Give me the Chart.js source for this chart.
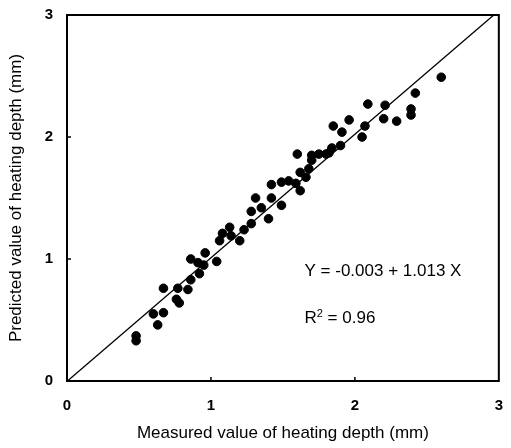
<!DOCTYPE html>
<html>
<head>
<meta charset="utf-8">
<script src="https://cdn.jsdelivr.net/npm/chart.js@4/dist/chart.umd.min.js"></script>
<style>
  html, body { margin: 0; padding: 0; background: #fff; }
  #wrap { width: 511px; height: 448px; }
</style>
</head>
<body>
<div id="wrap"><canvas id="grafico"></canvas></div>
<script>
const medido = [0.48, 0.48, 0.60, 0.67, 0.63, 0.67, 0.76, 0.78, 0.77, 0.84,
                0.86, 0.86, 0.92, 0.95, 0.96, 0.91, 1.04, 1.06, 1.08, 1.13,
                1.20, 1.23, 1.28, 1.28, 1.31, 1.35, 1.40, 1.42, 1.42, 1.49,
                1.49, 1.54, 1.59, 1.62, 1.62, 1.68, 1.70, 1.60, 1.75, 1.80,
                1.84, 1.90, 1.85, 1.91, 1.96, 2.05, 2.07, 2.09, 2.20, 2.21,
                2.29, 2.39, 2.39, 2.42, 2.60, 1.14, 1.66, 1.70, 1.82];
const previsto = [0.37, 0.33, 0.55, 0.56, 0.46, 0.76, 0.67, 0.64, 0.76, 0.75,
                  0.83, 1.00, 0.88, 0.95, 1.05, 0.97, 0.98, 1.15, 1.21, 1.26,
                  1.15, 1.24, 1.29, 1.39, 1.50, 1.42, 1.33, 1.50, 1.61, 1.44,
                  1.63, 1.64, 1.62, 1.56, 1.71, 1.74, 1.85, 1.86, 1.86, 1.86,
                  1.91, 1.93, 2.09, 2.04, 2.14, 2.00, 2.09, 2.27, 2.15, 2.26,
                  2.13, 2.23, 2.18, 2.36, 2.49, 1.19, 1.67, 1.81, 1.87];

// reta de regressão Y = -0.003 + 1.013 X (extremos)
const retaX = [0, 2.965];
const retaY = [-0.003, 3.0];

const ticksEixo = [0, 1, 2, 3];

const pontos = medido.map((v, i) => ({ x: v, y: previsto[i] }));
const reta = retaX.map((v, i) => ({ x: v, y: retaY[i] }));

const fonte = '"Liberation Sans", Arial, sans-serif';

// moldura, marcas internas e texto da equação
const moldura = {
    id: 'moldura',
    afterDatasetsDraw(chart) {
        const { ctx, chartArea: a, scales } = chart;
        ctx.save();
        ctx.strokeStyle = '#000';
        ctx.lineWidth = 2;
        ctx.strokeRect(a.left, a.top, a.right - a.left, a.bottom - a.top);
        ctx.lineWidth = 1.5;
        ticksEixo.slice(1, 3).forEach(t => {
            const px = scales.x.getPixelForValue(t);
            ctx.beginPath();
            ctx.moveTo(px, a.bottom);
            ctx.lineTo(px, a.bottom - 4);
            ctx.stroke();
            const py = scales.y.getPixelForValue(t);
            ctx.beginPath();
            ctx.moveTo(a.left, py);
            ctx.lineTo(a.left + 4, py);
            ctx.stroke();
        });
        ctx.fillStyle = '#000';
        ctx.font = '17px ' + fonte;
        ctx.textBaseline = 'middle';
        const tx = scales.x.getPixelForValue(1.65);
        ctx.fillText('Y = -0.003 + 1.013 X', tx, scales.y.getPixelForValue(0.9));
        const ry = scales.y.getPixelForValue(0.51);
        ctx.fillText('R', tx, ry);
        const wR = ctx.measureText('R').width;
        ctx.font = '11px ' + fonte;
        ctx.fillText('2', tx + wR, ry - 5);
        const w2 = ctx.measureText('2').width;
        ctx.font = '17px ' + fonte;
        ctx.fillText(' = 0.96', tx + wR + w2, ry);
        ctx.restore();
    }
};

new Chart(document.getElementById('grafico').getContext('2d'), {
    type: 'scatter',
    data: {
        datasets: [{
            data: pontos,
            backgroundColor: '#000',
            borderColor: '#000',
            pointRadius: 4.3,
            pointHoverRadius: 4.3
        }, {
            type: 'line',
            data: reta,
            borderColor: '#000',
            borderWidth: 1.3,
            pointRadius: 0,
            fill: false
        }]
    },
    options: {
        responsive: true,
        maintainAspectRatio: false,
        animation: false,
        layout: { padding: { top: 14, right: 10, left: 0, bottom: 0 } },
        plugins: {
            legend: { display: false },
            tooltip: { enabled: false }
        },
        scales: {
            x: {
                type: 'linear',
                min: 0,
                max: 3,
                afterBuildTicks: s => { s.ticks = ticksEixo.map(v => ({ value: v })); },
                afterFit: s => { s.height = 67; },
                grid: { display: false },
                border: { display: false },
                ticks: {
                    color: '#000',
                    padding: 8,
                    font: { family: fonte, size: 15, weight: 'bold' }
                },
                title: {
                    display: true,
                    text: 'Measured value of heating depth (mm)',
                    color: '#000',
                    padding: { top: 14 },
                    font: { family: fonte, size: 17 }
                }
            },
            y: {
                type: 'linear',
                min: 0,
                max: 3,
                afterBuildTicks: s => { s.ticks = ticksEixo.map(v => ({ value: v })); },
                afterFit: s => { s.width = 67; },
                grid: { display: false },
                border: { display: false },
                ticks: {
                    color: '#000',
                    padding: 6,
                    font: { family: fonte, size: 15, weight: 'bold' }
                },
                title: {
                    display: true,
                    text: 'Predicted value of heating depth (mm)',
                    color: '#000',
                    padding: { top: 6, bottom: 4 },
                    font: { family: fonte, size: 17 }
                }
            }
        }
    },
    plugins: [moldura]
});
</script>
</body>
</html>
